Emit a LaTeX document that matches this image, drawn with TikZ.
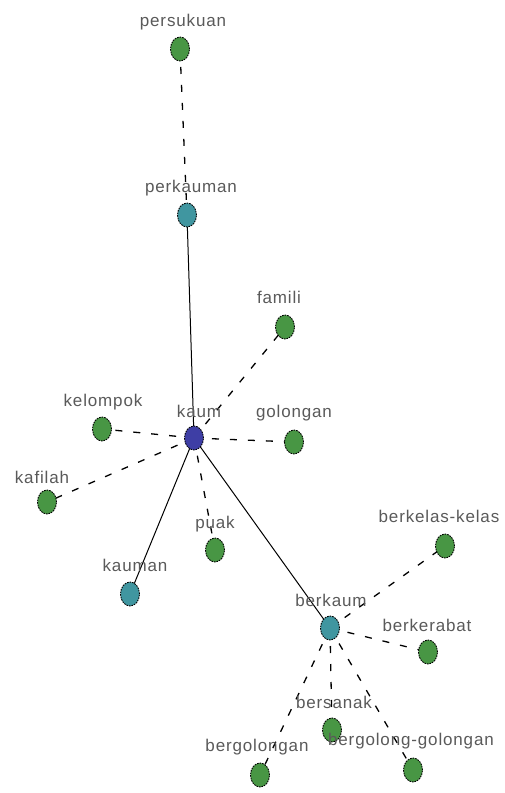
\documentclass[tikz,border=0pt]{standalone}
\usepackage{fontspec}
\setmainfont{Liberation Sans}[LetterSpace=5]
\definecolor{vgreen}{RGB}{72,150,68}
\definecolor{vteal}{RGB}{64,150,160}
\definecolor{vblue}{RGB}{62,62,165}
\definecolor{lblgray}{RGB}{90,90,90}
\usetikzlibrary{shapes.geometric}
\tikzset{
  vert/.style={ellipse, draw=black, line width=0.9pt, dash pattern=on 1.6pt off 1pt, minimum width=19pt, minimum height=24pt, inner sep=0pt},
  gv/.style={vert, fill=vgreen},
  tv/.style={vert, fill=vteal},
  bv/.style={vert, fill=vblue},
  lbl/.style={text=lblgray, font=\fontsize{17}{19}\selectfont, inner sep=0pt},
  solidedge/.style={draw=black, line width=1pt},
  dashedge/.style={draw=black, line width=1.3pt, dash pattern=on 7pt off 11pt},
}
\begin{document}
\begin{tikzpicture}[x=1pt,y=-1pt]
\useasboundingbox (0,0) rectangle (504,793);
\fill[white] (0,0) rectangle (504,793);
% vertex centres
\coordinate (cpersukuan) at (180,49);
\coordinate (cperkauman) at (187,215);
\coordinate (cfamili) at (285,327);
\coordinate (ckelompok) at (102,429);
\coordinate (ckaum) at (194,438);
\coordinate (cgolongan) at (294,442);
\coordinate (ckafilah) at (47,502);
\coordinate (cpuak) at (215,550);
\coordinate (ckauman) at (130,594);
\coordinate (cberkelas) at (445,546);
\coordinate (cberkaum) at (330,628);
\coordinate (cberkerabat) at (428,652);
\coordinate (cbersanak) at (332,730);
\coordinate (cbergolongan) at (260,775);
\coordinate (cbergolong) at (413,770);

% edges (centre to centre, behind the vertices)
\draw[dashedge] (cpersukuan) -- (cperkauman);
\draw[solidedge] (ckaum) -- (cperkauman);
\draw[solidedge] (ckaum) -- (ckauman);
\draw[solidedge] (ckaum) -- (cberkaum);
\draw[dashedge] (ckaum) -- (cfamili);
\draw[dashedge] (ckaum) -- (ckelompok);
\draw[dashedge] (ckaum) -- (cgolongan);
\draw[dashedge] (ckaum) -- (ckafilah);
\draw[dashedge] (ckaum) -- (cpuak);
\draw[dashedge] (cberkaum) -- (cberkelas);
\draw[dashedge] (cberkaum) -- (cberkerabat);
\draw[dashedge] (cberkaum) -- (cbersanak);
\draw[dashedge] (cberkaum) -- (cbergolongan);
\draw[dashedge] (cberkaum) -- (cbergolong);

% vertices
\node[gv] (persukuan) at (cpersukuan) {};
\node[tv] (perkauman) at (cperkauman) {};
\node[gv] (famili) at (cfamili) {};
\node[gv] (kelompok) at (ckelompok) {};
\node[bv] (kaum) at (ckaum) {};
\node[gv] (golongan) at (cgolongan) {};
\node[gv] (kafilah) at (ckafilah) {};
\node[gv] (puak) at (cpuak) {};
\node[tv] (kauman) at (ckauman) {};
\node[gv] (berkelas) at (cberkelas) {};
\node[tv] (berkaum) at (cberkaum) {};
\node[gv] (berkerabat) at (cberkerabat) {};
\node[gv] (bersanak) at (cbersanak) {};
\node[gv] (bergolongan) at (cbergolongan) {};
\node[gv] (bergolong) at (cbergolong) {};

% labels
\node[lbl] (Lpersukuan) at (183,22) {persukuan};
\node[lbl] (Lperkauman) at (191,188) {perkauman};
\node[lbl] (Lfamili) at (279,297) {famili};
\node[lbl] (Lkelompok) at (103,402) {kelompok};
\node[lbl] (Lkaum) at (199,411) {kaum};
\node[lbl] (Lgolongan) at (294,413) {golongan};
\node[lbl] (Lkafilah) at (42,477) {kafilah};
\node[lbl] (Lpuak) at (215,524) {puak};
\node[lbl] (Lkauman) at (135,565) {kauman};
\node[lbl] (Lberkelas) at (439,516) {berkelas-kelas};
\node[lbl] (Lberkaum) at (331,600) {berkaum};
\node[lbl] (Lberkerabat) at (427,625) {berkerabat};
\node[lbl] (Lbersanak) at (334,702) {bersanak};
\node[lbl] (Lbergolongan) at (257,747) {bergolongan};
\node[lbl] (Lbergolong) at (411,741) {bergolong-golongan};
\end{tikzpicture}
\end{document}
